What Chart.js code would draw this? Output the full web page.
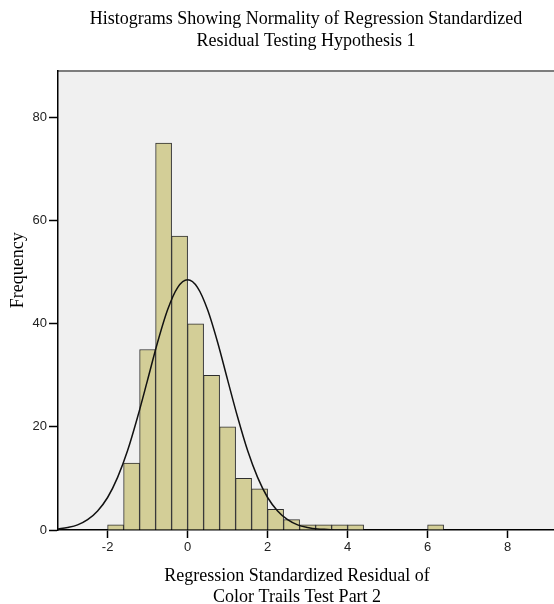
<!DOCTYPE html>
<html><head><meta charset="utf-8">
<script src="https://cdn.jsdelivr.net/npm/chart.js@4/dist/chart.umd.min.js"></script>
<style>html,body{margin:0;padding:0;background:#fff;}</style>
</head><body>
<canvas id="c" width="554" height="604"></canvas>
<script>
// Histogram bins (centres of 0.4-wide bins) and their frequencies
const binCenters = [-1.8, -1.4, -1.0, -0.6, -0.2, 0.2, 0.6, 1.0, 1.4, 1.8, 2.2, 2.6, 3.0, 3.4, 3.8, 4.2, 6.2];
const frequencies = [1, 13, 35, 75, 57, 40, 30, 20, 10, 8, 4, 2, 1, 1, 1, 1, 1];
// Normal curve
const curveX = [-3.25, -3.0, -2.75, -2.5, -2.25, -2.0, -1.75, -1.5, -1.25, -1.0, -0.75, -0.5, -0.25, 0,
                0.25, 0.5, 0.75, 1.0, 1.25, 1.5, 1.75, 2.0, 2.25, 2.5, 2.75, 3.0, 3.25, 3.5, 3.75, 4.0];
const curveY = [0.2, 0.5, 1.0, 2.0, 3.7, 6.3, 10.2, 15.4, 21.9, 29.1, 36.4, 42.7, 47.0, 48.5,
                47.0, 42.7, 36.4, 29.1, 21.9, 15.4, 10.2, 6.3, 3.7, 2.0, 1.0, 0.5, 0.2, 0.1, 0.0, 0.0];
const xTicks = [-2, 0, 2, 4, 6, 8];
const yTicks = [0, 20, 40, 60, 80];
const chartTitle = ['Histograms Showing Normality of Regression Standardized', 'Residual Testing Hypothesis 1'];
const xTitle = ['Regression Standardized Residual of', 'Color Trails Test Part 2'];
const yTitle = 'Frequency';

const SERIF = "'Liberation Serif', 'Times New Roman', serif";
const SANS = "'Liberation Sans', Arial, sans-serif";

const deco = {
  id: 'deco',
  beforeDraw(chart) {
    const { ctx, chartArea: a } = chart;
    ctx.save();
    ctx.fillStyle = '#F0F0F0';
    ctx.fillRect(a.left, a.top, a.right - a.left, a.bottom - a.top);
    ctx.strokeStyle = '#7d7d7d';
    ctx.lineWidth = 2;
    ctx.beginPath();
    ctx.moveTo(a.left, a.top);
    ctx.lineTo(a.right, a.top);
    ctx.stroke();
    ctx.restore();
  },
  afterDraw(chart) {
    const { ctx, chartArea: a } = chart;
    ctx.save();
    ctx.fillStyle = '#000';
    ctx.font = '18px ' + SERIF;
    ctx.textAlign = 'center';
    ctx.textBaseline = 'alphabetic';
    const cx = a.left + (a.right - a.left) * 0.482;
    ctx.fillText(xTitle[0], cx, a.bottom + 51);
    ctx.fillText(xTitle[1], cx, a.bottom + 72);
    ctx.translate(23, a.top + (a.bottom - a.top) * 0.434);
    ctx.rotate(-Math.PI / 2);
    ctx.fillText(yTitle, 0, 0);
    ctx.restore();
  }
};

new Chart(document.getElementById('c'), {
  data: {
    datasets: [
      {
        type: 'line',
        data: curveX.map((x, i) => ({ x: x, y: curveY[i] })),
        borderColor: '#111',
        borderWidth: 1.5,
        pointRadius: 0,
        cubicInterpolationMode: 'monotone',
        fill: false,
        order: 0
      },
      {
        type: 'bar',
        data: binCenters.map((x, i) => ({ x: x, y: frequencies[i] })),
        backgroundColor: 'rgb(211,206,151)',
        borderColor: '#2e2e2e',
        borderWidth: 1,
        barPercentage: 1,
        categoryPercentage: 1,
        order: 1
      }
    ]
  },
  options: {
    responsive: false,
    animation: false,
    devicePixelRatio: 1,
    layout: { padding: 0 },
    plugins: {
      legend: { display: false },
      tooltip: { enabled: false },
      title: {
        display: true,
        text: chartTitle,
        fullSize: false,
        color: '#000',
        font: { family: SERIF, size: 18, weight: 'normal', lineHeight: 1.2 },
        padding: { top: 8.5, bottom: 19.3 }
      }
    },
    scales: {
      x: {
        type: 'linear',
        offset: false,
        min: -3.24,
        max: 9.16,
        afterBuildTicks: s => { s.ticks = xTicks.map(v => ({ value: v })); },
        afterFit: s => { s.height = 74; },
        grid: { offset: false, drawOnChartArea: false, drawTicks: true, tickLength: 8, color: '#000', tickWidth: 1.5 },
        border: { color: '#000', width: 1.5 },
        ticks: { font: { family: SANS, size: 13 }, color: '#222', padding: 2, maxRotation: 0, autoSkip: false }
      },
      y: {
        type: 'linear',
        min: 0,
        max: 89,
        afterBuildTicks: s => { s.ticks = yTicks.map(v => ({ value: v })); },
        afterFit: s => { s.width = 58; },
        grid: { drawOnChartArea: false, drawTicks: true, tickLength: 9, color: '#000', tickWidth: 1.5 },
        border: { color: '#000', width: 1.5 },
        ticks: { font: { family: SANS, size: 13 }, color: '#222', padding: 2 }
      }
    }
  },
  plugins: [deco]
});
</script>
</body></html>
